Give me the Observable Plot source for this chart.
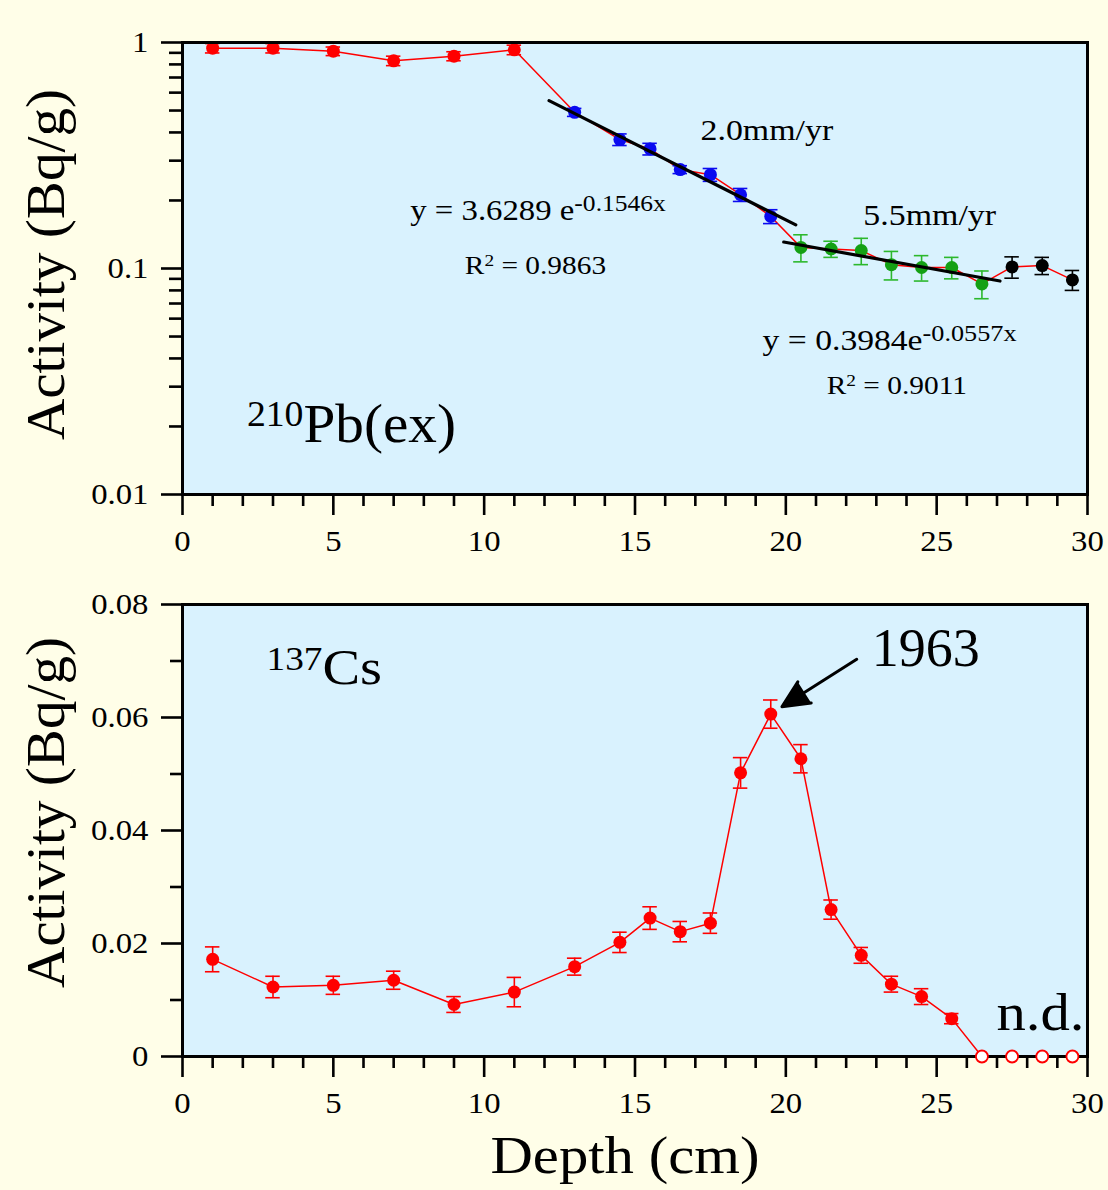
<!DOCTYPE html>
<html><head><meta charset="utf-8">
<script src="https://cdn.jsdelivr.net/npm/d3@7"></script>
<script src="https://cdn.jsdelivr.net/npm/@observablehq/plot@0.6"></script>
<style>
html,body{margin:0;padding:0;background:#fffee8;}
#chart{width:1108px;height:1190px;background:#fffee8;overflow:hidden;}
#chart svg{display:block;}
</style></head><body><div id="chart"></div>
<script>
// ---------- data ----------
const pbDepth = [1,3,5,7,9,11,13,14.5,15.5,16.5,17.5,18.5,19.5,20.5,21.5,22.5,23.5,24.5,25.5,26.5,27.5,28.5,29.5];
const pbActivity = [0.944,0.944,0.915,0.83,0.87,0.928,0.491,0.372,0.338,0.274,0.260,0.212,0.170,0.124,0.122,0.120,0.104,0.101,0.101,0.0855,0.1016,0.103,0.089];
const pbError = [0.045,0.045,0.04,0.04,0.04,0.045,0.02,0.022,0.02,0.011,0.017,0.014,0.012,0.017,0.01,0.016,0.015,0.013,0.011,0.012,0.011,0.009,0.009];
const pbGroup = ["surface","surface","surface","surface","surface","surface","fit1","fit1","fit1","fit1","fit1","fit1","fit1","fit2","fit2","fit2","fit2","fit2","fit2","fit2","deep","deep","deep"];
const fit1Depth = [12.15, 20.33];
const fit1Activity = [0.553, 0.156];
const fit2Depth = [19.93, 27.1];
const fit2Activity = [0.131, 0.088];

const csDepth = [1,3,5,7,9,11,13,14.5,15.5,16.5,17.5,18.5,19.5,20.5,21.5,22.5,23.5,24.5,25.5,26.5,27.5,28.5,29.5];
const csActivity = [0.0172,0.0123,0.0126,0.0135,0.0092,0.0114,0.0159,0.0202,0.0245,0.0221,0.0236,0.0502,0.0606,0.0527,0.026,0.0179,0.0128,0.0106,0.0067,0,0,0,0];
const csError = [0.0022,0.0019,0.0016,0.0016,0.0014,0.0026,0.0015,0.0018,0.002,0.0018,0.0018,0.0027,0.0025,0.0025,0.0017,0.0014,0.0014,0.0014,0.0009,0,0,0,0];
const csDetected = [true,true,true,true,true,true,true,true,true,true,true,true,true,true,true,true,true,true,true,false,false,false,false];

const xMajorTicks = [0,5,10,15,20,25,30];
const xMinorTicks = [1,2,3,4,6,7,8,9,11,12,13,14,16,17,18,19,21,22,23,24,26,27,28,29];
const pbMajorTicks = [0.01,0.1,1];
const pbMinorTicks = [0.02,0.03,0.04,0.05,0.06,0.07,0.08,0.09,0.2,0.3,0.4,0.5,0.6,0.7,0.8,0.9];
const csMajorTicks = [0,0.02,0.04,0.06,0.08];
const csMinorTicks = [0.01,0.03,0.05,0.07];

// ---------- tables ----------
const groupDot = {surface:"#ff0000", fit1:"#0a0af0", fit2:"#14a014", deep:"#000000"};
const groupBar = {surface:"#ff0000", fit1:"#0a0af0", fit2:"#2cb82c", deep:"#000000"};
const pb = pbDepth.map((d,i)=>({depth:d, act:pbActivity[i], err:pbError[i], group:pbGroup[i]}));
const fit1 = fit1Depth.map((d,i)=>({depth:d, act:fit1Activity[i]}));
const fit2 = fit2Depth.map((d,i)=>({depth:d, act:fit2Activity[i]}));
const cs = csDepth.map((d,i)=>({depth:d, act:csActivity[i], err:csError[i], det:csDetected[i]}));
const csDet = cs.filter(d=>d.det);
const csND = cs.filter(d=>!d.det);

const serif = "'Liberation Serif','Times New Roman',Times,serif";
const W = 1108, ML = 182, MR = 21;
const BG = "#d9f2fe";
const CAP = 0.24;
const TICKFONT = 29;

function xAxes(){
  return [
    Plot.axisX({ticks:xMajorTicks, tickSize:21, tickPadding:15, tickFormat:d=>String(d), label:null, strokeWidth:2.6, fontSize:TICKFONT, fontFamily:serif}),
    Plot.axisX({ticks:xMinorTicks, tickSize:12, tickFormat:()=>"", label:null, strokeWidth:2.6})
  ];
}

const topPlot = Plot.plot({
  width: W, height: 570,
  marginLeft: ML, marginRight: MR, marginTop: 42, marginBottom: 76,
  style: {fontFamily: serif, fontSize: "29px", background: "transparent", color: "black", overflow: "visible"},
  x: {domain:[0,30]},
  y: {type:"log", domain:[0.01,1]},
  color: {type:"identity"},
  marks: [
    Plot.frame({fill:BG, stroke:null}),
    ...xAxes(),
    Plot.axisY({ticks:pbMajorTicks, tickSize:21, tickPadding:13, tickFormat:d=>String(d), label:null, strokeWidth:2.6, fontSize:TICKFONT, fontFamily:serif}),
    Plot.axisY({ticks:pbMinorTicks, tickSize:13, tickFormat:()=>"", label:null, strokeWidth:2.6}),
    Plot.line(pb, {x:"depth", y:"act", stroke:"#ff0000", strokeWidth:1.5}),
    Plot.ruleX(pb, {x:"depth", y1:d=>d.act-d.err, y2:d=>d.act+d.err, stroke:d=>groupBar[d.group], strokeWidth:1.6}),
    Plot.ruleY(pb, {y:d=>d.act+d.err, x1:d=>d.depth-CAP, x2:d=>d.depth+CAP, stroke:d=>groupBar[d.group], strokeWidth:1.6}),
    Plot.ruleY(pb, {y:d=>d.act-d.err, x1:d=>d.depth-CAP, x2:d=>d.depth+CAP, stroke:d=>groupBar[d.group], strokeWidth:1.6}),
    Plot.dot(pb, {x:"depth", y:"act", r:6.5, fill:d=>groupDot[d.group], stroke:null}),
    Plot.line(fit1, {x:"depth", y:"act", stroke:"black", strokeWidth:3.2}),
    Plot.line(fit2, {x:"depth", y:"act", stroke:"black", strokeWidth:3.2}),
    Plot.frame({stroke:"black", strokeWidth:3}),
    Plot.text(["2.0mm/yr"], {x:19.37, y:0.408, fontSize:30, textAnchor:"middle"}),
    Plot.text(["5.5mm/yr"], {x:24.77, y:0.1716, fontSize:30, textAnchor:"middle"}),
    Plot.text(["y = 3.6289 e^[-0.1546x]"], {x:7.55, y:0.18, fontSize:29, textAnchor:"start"}),
    Plot.text(["R^{2} = 0.9863"], {x:11.7, y:0.1034, fontSize:26, textAnchor:"middle"}),
    Plot.text(["y = 0.3984e^[-0.0557x]"], {x:23.44, y:0.048, fontSize:29, textAnchor:"middle"}),
    Plot.text(["R^{2} = 0.9011"], {x:23.68, y:0.0304, fontSize:26, textAnchor:"middle"}),
    Plot.text(["^{210}Pb(ex)"], {x:5.6, y:0.0204, fontSize:55, textAnchor:"middle"}),
    Plot.text(["Activity (Bq/g)"], {frameAnchor:"left", textAnchor:"middle", lineAnchor:"middle", rotate:-90, dx:-136, dy:-4, fontSize:54})
  ]
});

const bottomPlot = Plot.plot({
  width: W, height: 620,
  marginLeft: ML, marginRight: MR, marginTop: 34, marginBottom: 134,
  style: {fontFamily: serif, fontSize: "29px", background: "transparent", color: "black", overflow: "visible"},
  x: {domain:[0,30]},
  y: {domain:[0,0.08]},
  marks: [
    Plot.frame({fill:BG, stroke:null}),
    ...xAxes(),
    Plot.axisY({ticks:csMajorTicks, tickSize:21, tickPadding:13, tickFormat:d=>String(d), label:null, strokeWidth:2.6, fontSize:TICKFONT, fontFamily:serif}),
    Plot.axisY({ticks:csMinorTicks, tickSize:12, tickFormat:()=>"", label:null, strokeWidth:2.6}),
    Plot.line(cs, {x:"depth", y:"act", stroke:"#ff0000", strokeWidth:1.5}),
    Plot.ruleX(csDet, {x:"depth", y1:d=>d.act-d.err, y2:d=>d.act+d.err, stroke:"#ff0000", strokeWidth:1.6}),
    Plot.ruleY(csDet, {y:d=>d.act+d.err, x1:d=>d.depth-CAP, x2:d=>d.depth+CAP, stroke:"#ff0000", strokeWidth:1.6}),
    Plot.ruleY(csDet, {y:d=>d.act-d.err, x1:d=>d.depth-CAP, x2:d=>d.depth+CAP, stroke:"#ff0000", strokeWidth:1.6}),
    Plot.dot(csDet, {x:"depth", y:"act", r:6.5, fill:"#ff0000", stroke:null}),
    Plot.frame({stroke:"black", strokeWidth:3}),
    Plot.dot(csND, {x:"depth", y:"act", r:6, fill:"white", stroke:"#ff0000", strokeWidth:1.8}),
    Plot.arrow([0], {x1:22.35, y1:0.0703, x2:19.87, y2:0.0619, stroke:"black", fill:"black", strokeWidth:3, headLength:24, headAngle:50}),
    Plot.text(["1963"], {x:24.64, y:0.0722, fontSize:54, textAnchor:"middle"}),
    Plot.text(["^{137}Cs"], {x:4.7, y:0.0688, fontSize:50, textAnchor:"middle"}),
    Plot.text(["n.d."], {x:28.44, y:0.0076, fontSize:52, textAnchor:"middle"}),
    Plot.text(["Activity (Bq/g)"], {frameAnchor:"left", textAnchor:"middle", lineAnchor:"middle", rotate:-90, dx:-136, dy:-18, fontSize:54}),
    Plot.text(["Depth (cm)"], {frameAnchor:"bottom", textAnchor:"middle", lineAnchor:"middle", dx:-10, dy:100, fontSize:52})
  ]
});

const chart = document.getElementById("chart");
chart.appendChild(topPlot);
chart.appendChild(bottomPlot);

// superscripts (^{..} small, ^[..] larger) and a slight horizontal widening of glyphs
const stretchDefault = 1.13;
const stretchOverride = {"^{210}Pb(ex)":1.04, "1963":1.0, "Activity (Bq/g)":1.06, "y = 0.3984e^[-0.0557x]":1.16};
function finishText(svg){
  const ns = "http://www.w3.org/2000/svg";
  svg.querySelectorAll("text").forEach(t=>{
    const s = t.textContent;
    if (!s) return;
    if (s.includes("^{") || s.includes("^[")){
      while (t.firstChild) t.removeChild(t.firstChild);
      const re = /\^(\{([^}]*)\}|\[([^\]]*)\])/g;
      let last = 0, m;
      const add = (txt, size)=>{
        if (!txt) return;
        const ts = document.createElementNS(ns, "tspan");
        ts.textContent = txt;
        if (size){ ts.setAttribute("font-size", size); ts.setAttribute("baseline-shift","0.42em"); }
        t.appendChild(ts);
      };
      while ((m = re.exec(s))){
        add(s.slice(last, m.index), null);
        if (m[2] !== undefined) add(m[2], "0.66em"); else add(m[3], "0.78em");
        last = re.lastIndex;
      }
      add(s.slice(last), null);
    }
    const f = stretchOverride[s] ?? stretchDefault;
    if (f === 1) return;
    let bb;
    try { bb = t.getBBox(); } catch(e) { return; }
    if (!bb || !isFinite(bb.x) || bb.width === 0) return;
    const anchor = getComputedStyle(t).textAnchor;
    const ax = anchor === "middle" ? bb.x + bb.width/2 : anchor === "end" ? bb.x + bb.width : bb.x;
    const tr = t.getAttribute("transform") || "";
    t.setAttribute("transform", `${tr} translate(${ax},0) scale(${f},1) translate(${-ax},0)`.trim());
  });
}
finishText(topPlot); finishText(bottomPlot);
</script></body></html>
